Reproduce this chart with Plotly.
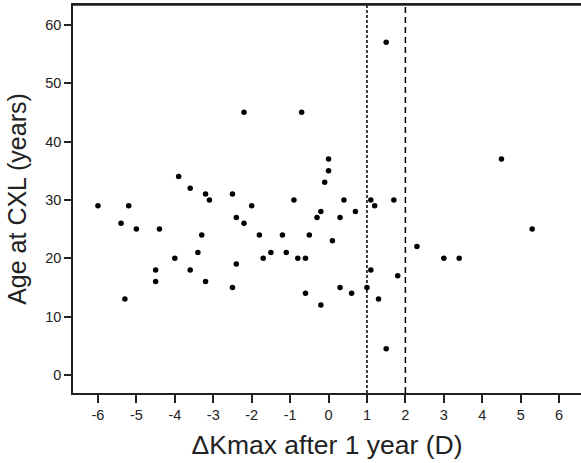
import plotly.graph_objects as go

delta_kmax = [-6.0, -5.4, -5.2, -5.0, -5.3, -4.4, -4.5, -4.5, -4.0, -3.9, -3.6, -3.6,
              -3.4, -3.3, -3.2, -3.1, -3.2, -2.5, -2.5, -2.4, -2.4, -2.2, -2.2, -2.0,
              -1.8, -1.7, -1.5, -1.2, -1.1, -0.9, -0.8, -0.7, -0.6, -0.6, -0.5, -0.3,
              -0.2, -0.2, -0.1, 0.0, 0.0, 0.1, 0.3, 0.3, 0.4, 0.6, 0.7, 1.0, 1.1, 1.1,
              1.2, 1.3, 1.5, 1.5, 1.7, 1.8, 2.3, 3.0, 3.4, 4.5, 5.3]
age_cxl = [29, 26, 29, 25, 13, 25, 18, 16, 20, 34, 32, 18,
           21, 24, 31, 30, 16, 31, 15, 27, 19, 45, 26, 29,
           24, 20, 21, 24, 21, 30, 20, 45, 20, 14, 24, 27,
           28, 12, 33, 37, 35, 23, 27, 15, 30, 14, 28, 15, 30, 18,
           29, 13, 57, 4.5, 30, 17, 22, 20, 20, 37, 25]

x_ticks = [-6, -5, -4, -3, -2, -1, 0, 1, 2, 3, 4, 5, 6]
y_ticks = [0, 10, 20, 30, 40, 50, 60]
ref_lines = [1, 2]

fig = go.Figure()
fig.add_trace(go.Scatter(x=delta_kmax, y=age_cxl, mode="markers",
                         marker=dict(color="black", size=5.5), showlegend=False))

fig.add_shape(type="line", xref="x", yref="paper", x0=ref_lines[0], x1=ref_lines[0], y0=0, y1=1,
              line=dict(color="black", width=1.5, dash="3px,2px"))
fig.add_shape(type="line", xref="x", yref="paper", x0=ref_lines[1], x1=ref_lines[1], y0=0, y1=1,
              line=dict(color="black", width=1.5, dash="6px,4px"))
# top frame line
fig.add_shape(type="line", xref="paper", yref="paper", x0=0, x1=1, y0=1, y1=1,
              line=dict(color="#222", width=1.5))

font_family = "Liberation Sans, Arial, sans-serif"
fig.update_layout(
    width=581, height=463,
    margin=dict(l=73, r=0, t=5, b=70),
    plot_bgcolor="white", paper_bgcolor="white",
    font=dict(family=font_family, color="#222"),
    xaxis=dict(range=[-6.65, 6.57], tickvals=x_ticks, ticktext=[str(v) for v in x_ticks],
               showgrid=False, zeroline=False, showline=True, linecolor="#222", linewidth=1.5,
               mirror=True, ticks="outside", ticklen=8, tickwidth=1.5, tickcolor="#222",
               tickfont=dict(size=14.5), automargin=False,
               title=dict(text="ΔKmax after 1 year (D)", font=dict(size=26.5), standoff=13)),
    yaxis=dict(range=[-3.1, 63.4], tickvals=y_ticks, showgrid=False, zeroline=False,
               showline=True, linecolor="#222", linewidth=1.5, ticks="outside", ticklen=7,
               tickwidth=1.5, tickcolor="#222", tickfont=dict(size=14.5), automargin=False,
               title=dict(text="Age at CXL (years)", font=dict(size=25), standoff=11)),
)

fig.write_html("out.html", config={"displayModeBar": False},
               post_script="document.body.style.margin='0px';")
